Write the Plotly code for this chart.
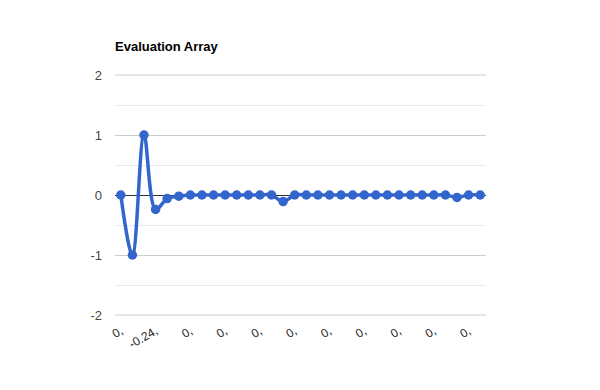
import plotly.graph_objects as go

categories = list(range(32))
values = [0, -1, 1, -0.24, -0.06, -0.02, 0, 0, 0, 0, 0, 0, 0, 0, -0.11, 0,
          0, 0, 0, 0, 0, 0, 0, 0, 0, 0, 0, 0, 0, -0.04, 0, 0]
tick_positions = list(range(0, 32, 3))
tick_labels = ["0,", "-0.24,", "0,", "0,", "0,", "0,", "0,", "0,", "0,", "0,", "0,"]
y_ticks = [-2, -1, 0, 1, 2]

fig = go.Figure()
fig.add_trace(go.Scatter(
    x=categories, y=values, mode="lines+markers",
    line=dict(color="#3366cc", width=3.5, shape="spline", smoothing=1.0),
    marker=dict(color="#3366cc", size=9.5),
    showlegend=False, hoverinfo="skip",
))

# edge gridlines (plotly hides grid lines on the plot-area border)
for yv in (y_ticks[0], y_ticks[-1]):
    fig.add_shape(type="line", xref="paper", x0=0, x1=1, yref="y", y0=yv, y1=yv,
                  line=dict(color="#cccccc", width=1), layer="below")

fig.update_layout(
    width=600, height=390,
    margin=dict(l=115, r=114, t=74, b=74, autoexpand=False),
    paper_bgcolor="white", plot_bgcolor="white",
    font=dict(family="Liberation Sans, Arial, sans-serif", size=13, color="#444444"),
    title=dict(text="<b>Evaluation Array</b>", x=115/600, xanchor="left",
               y=1 - 46/390, yanchor="middle",
               font=dict(size=13, color="#000000")),
)
fig.update_xaxes(
    type="linear", range=[-0.5, 31.5], automargin=False,
    tickmode="array", tickvals=tick_positions, ticktext=tick_labels,
    tickangle=-30, showgrid=False, zeroline=False, showline=False,
    tickfont=dict(size=12, color="#222222"), ticks="", ticklabelstandoff=5,
)
fig.update_yaxes(
    range=[-2.0167, 2.0167], automargin=False,
    tickmode="array", tickvals=y_ticks,
    ticktext=[str(v) for v in y_ticks],
    showgrid=True, gridcolor="#cccccc", gridwidth=1,
    zeroline=True, zerolinecolor="#333333", zerolinewidth=1,
    minor=dict(dtick=0.5, showgrid=True, gridcolor="#ebebeb", gridwidth=1),
    ticks="", ticklabelstandoff=12, tickfont=dict(size=13, color="#444444"),
    showline=False,
)

fig.write_html("out.html", post_script="document.body.style.margin='0';",
               config={"displayModeBar": False})
